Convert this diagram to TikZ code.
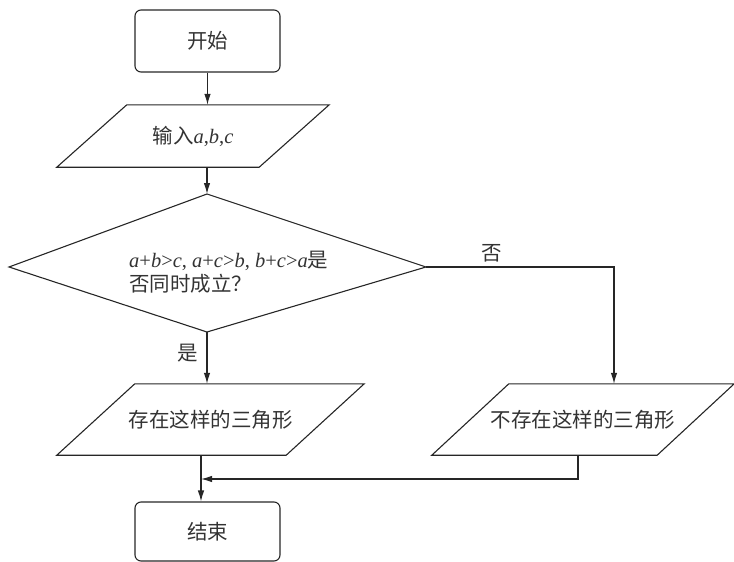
\documentclass[tikz,border=0pt]{standalone}
\usepackage{fontspec}
\setmainfont{Liberation Serif}
\newfontfamily\cjk{Noto Sans CJK SC}
\usetikzlibrary{arrows.meta,calc}

% parallelogram drawn round a rectangular node: #1 node name, #2 slant
\newcommand\drawio[2]{%
  \draw[line] ([xshift=#2]#1.north west) -- (#1.north east)
    -- ([xshift=-#2]#1.south east) -- (#1.south west) -- cycle;}
\newcommand\vi[1]{\textit{#1}}

\begin{document}
\begin{tikzpicture}[x=1pt,y=-1pt,
  line/.style={draw=black!85, line width=1.1pt},
  arr/.style={line, -{Latex[length=11pt,width=6.5pt]}},
  txt/.style={text=black!80, font=\fontsize{20.5}{24}\selectfont, inner sep=0pt},
  term/.style={txt, draw=black!85, line width=1.1pt, rounded corners=6pt,
    minimum width=145pt, minimum height=62pt},
  iobox/.style={txt, minimum height=#1},
]
\useasboundingbox (0,0) rectangle (734,562);

% terminals
\node[term] (start) at (207.5,41) {\cjk 开始};
\node[term, minimum height=59pt] (stop) at (207.5,531.5) {\cjk 结束};

% input
\node[iobox=62pt, minimum width=272pt] (in) at (193,136)
  {{\cjk 输入}\vi{a},\vi{b},\vi{c}};
\drawio{in}{70pt}

% decision
\coordinate (dtop) at (207,194);
\coordinate (dleft) at (9,267);
\coordinate (dright) at (426,267);
\coordinate (dbot) at (207,332);
\draw[line] (dtop) -- (dright) -- (dbot) -- (dleft) -- cycle;
\node[txt, align=left, anchor=west] (dtext) at (129,272)
  {\vi{a}+\vi{b}>\vi{c}, \vi{a}+\vi{c}>\vi{b}, \vi{b}+\vi{c}>\vi{a}{\cjk 是}\\
   {\cjk 否同时成立？}};

% outputs
\node[iobox=71pt, minimum width=307pt] (yes) at (210.5,419.5)
  {{\cjk 存在这样的三角形}\hspace{10pt}};
\drawio{yes}{78pt}
\node[iobox=71pt, minimum width=302pt] (no) at (583,419.5)
  {{\cjk 不存在这样的三角形}\hspace{14pt}};
\drawio{no}{77pt}

% branch labels
\node[txt] (ylab) at (188,353) {\cjk 是};
\node[txt] (nlab) at (492,253) {\cjk 否};

% connectors
\coordinate (nturn) at (614,267);
\coordinate (join) at (201,479);
\draw[arr] (start) -- (start |- in.north);
\draw[arr] (in.south -| dtop) -- (dtop);
\draw[arr] (dbot) -- (dbot |- yes.north);
\draw[arr] (dright) -- (nturn) -- (nturn |- no.north);
\draw[arr] ([xshift=-5pt]no.south) |- (join);
\draw[arr] (yes.south -| join) -- (join |- stop.north);
\end{tikzpicture}
\end{document}
